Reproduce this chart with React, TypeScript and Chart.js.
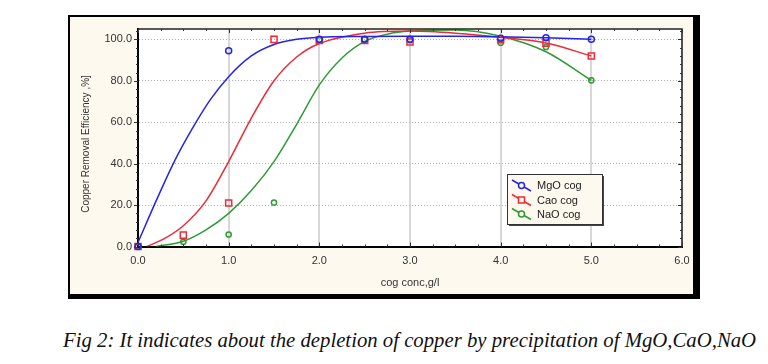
import React, { useEffect, useRef } from "react";
import { Chart, registerables } from "chart.js";
Chart.register(...registerables);

const seriesNames = ["MgO cog", "Cao cog", "NaO cog"];
const seriesColors = ["#2424e8", "#ee2a38", "#2f9a36"];
const xTicks = [0, 1, 2, 3, 4, 5, 6];
const yTicks = [0, 20, 40, 60, 80, 100];
const xTitle = "cog conc,g/l";
const yTitle = "Copper Removal Efficiency ,%]";
const caption = "Fig 2: It indicates about the depletion of copper by precipitation of MgO,CaO,NaO";

// measured points
const mgoX = [0, 1, 2, 2.5, 3, 4, 4.5, 5];
const mgoY = [0, 94.5, 100, 100, 100, 100.5, 100.8, 100];
const caoX = [0, 0.5, 1, 1.5, 2, 2.5, 3, 4, 4.5, 5];
const caoY = [0, 5.5, 21, 100, 99.5, 99.5, 98.7, 99.8, 98.2, 92];
const naoX = [0, 0.5, 1, 1.5, 2, 2.5, 3, 4, 4.5, 5];
const naoY = [0, 2.3, 5.8, 21.2, 99.6, 100, 99.6, 98.4, 96.3, 80.2];

// fitted curves
const mgoFitX = [0, 0.2, 0.4, 0.6, 0.8, 1.0, 1.25, 1.5, 1.75, 2.0, 2.5, 3.0, 3.5, 4.0, 4.5, 5.0];
const mgoFitY = [2, 22, 41, 57, 71, 82, 92, 97.5, 100, 101, 101.4, 101.5, 101.5, 101.2, 100.8, 100];
const caoFitX = [0.1, 0.3, 0.5, 0.75, 1.0, 1.25, 1.5, 1.75, 2.0, 2.5, 3.0, 3.5, 4.0, 4.5, 5.0];
const caoFitY = [0, 4, 10, 22, 41, 62, 80, 91.5, 98, 103, 104, 103, 101, 98.2, 92];
const naoFitX = [0.2, 0.5, 0.75, 1.0, 1.25, 1.5, 1.75, 2.0, 2.25, 2.5, 2.75, 3.0, 3.5, 4.0, 4.5, 5.0];
const naoFitY = [0, 2.5, 8, 16, 27, 41, 59, 78, 91, 99, 102.5, 104, 104.5, 101.5, 94, 80.2];

const zip = (xs: number[], ys: number[]) => xs.map((x, i) => ({ x, y: ys[i] }));

const FONT = "'Liberation Sans', Arial, sans-serif";

const framePlugin = {
  id: "frame",
  beforeDraw(chart: any) {
    const ctx = chart.ctx;
    const a = chart.chartArea;
    ctx.save();
    ctx.fillStyle = "#000";
    ctx.fillRect(68, 15, 632, 284);
    ctx.fillStyle = "#fdf9ef";
    ctx.fillRect(70, 17, 623, 277);
    ctx.fillStyle = "#ffffff";
    ctx.fillRect(a.left, a.top, a.right - a.left, a.bottom - a.top);
    ctx.restore();
  },
  afterDraw(chart: any) {
    const ctx = chart.ctx;
    const a = chart.chartArea;
    const xs = chart.scales.x;
    const ys = chart.scales.y;
    ctx.save();
    ctx.strokeStyle = "#222";
    ctx.lineWidth = 1.5;
    ctx.beginPath();
    ctx.moveTo(a.left, a.top);
    ctx.lineTo(a.right, a.top);
    ctx.lineTo(a.right, a.bottom);
    ctx.stroke();
    ctx.lineWidth = 1;
    ctx.strokeStyle = "#333";
    ctx.beginPath();
    for (let v = 0; v <= 6.001; v += 0.25) {
      const px = Math.round(xs.getPixelForValue(v)) + 0.5;
      const major = Math.abs(v - Math.round(v)) < 1e-6;
      const len = major ? 4 : 2;
      ctx.moveTo(px, a.top);
      ctx.lineTo(px, a.top + len);
      ctx.moveTo(px, a.bottom);
      ctx.lineTo(px, a.bottom - len);
    }
    for (let v = 0; v <= 104; v += 4) {
      const py = Math.round(ys.getPixelForValue(v)) + 0.5;
      const major = v % 20 === 0;
      const len = major ? 4 : 2;
      ctx.moveTo(a.left, py);
      ctx.lineTo(a.left - len, py);
      ctx.moveTo(a.right, py);
      ctx.lineTo(a.right - len, py);
    }
    ctx.stroke();

    ctx.fillStyle = "#333";
    ctx.font = "10px " + FONT;
    ctx.textAlign = "center";
    ctx.textBaseline = "middle";
    ctx.translate(86, 144);
    ctx.rotate(-Math.PI / 2);
    ctx.fillText(yTitle, 0, 0);
    ctx.restore();

    ctx.save();
    const bx = 507, by = 174, bw = 95, bh = 50;
    ctx.fillStyle = "#444";
    ctx.fillRect(bx + 2, by + 2, bw, bh);
    ctx.fillStyle = "#fdf9ef";
    ctx.fillRect(bx, by, bw, bh);
    ctx.strokeStyle = "#333";
    ctx.lineWidth = 1;
    ctx.strokeRect(bx + 0.5, by + 0.5, bw, bh);
    const rowY = [186, 200.5, 214.5];
    const styles = ["circle", "rect", "circle"];
    seriesNames.forEach((name, i) => {
      const y = rowY[i];
      ctx.strokeStyle = seriesColors[i];
      ctx.lineWidth = 1.5;
      ctx.beginPath();
      ctx.moveTo(512, y - 6);
      ctx.lineTo(531, y + 5);
      ctx.stroke();
      ctx.fillStyle = "#fdf9ef";
      ctx.beginPath();
      if (styles[i] === "circle") {
        ctx.arc(521.5, y - 0.5, 3, 0, Math.PI * 2);
      } else {
        ctx.rect(518.5, y - 3.5, 6, 6);
      }
      ctx.fill();
      ctx.stroke();
      ctx.fillStyle = "#222";
      ctx.font = "11px " + FONT;
      ctx.textAlign = "left";
      ctx.textBaseline = "middle";
      ctx.fillText(name, 537, y);
    });
    ctx.restore();
  },
};

export default function App() {
  const ref = useRef<HTMLCanvasElement | null>(null);
  useEffect(() => {
    if (!ref.current) return;
    const pointDs = (label: string, xs: number[], ys: number[], i: number, style: string, r: number) => ({
      label,
      data: zip(xs, ys),
      showLine: false,
      pointStyle: style,
      pointRadius: r,
      pointBorderWidth: 1.5,
      pointBorderColor: seriesColors[i],
      pointBackgroundColor: "rgba(0,0,0,0)",
      borderColor: seriesColors[i],
      clip: false,
      order: 0,
    });
    const fitDs = (label: string, xs: number[], ys: number[], i: number) => ({
      label: label + " fit",
      data: zip(xs, ys),
      showLine: true,
      pointRadius: 0,
      borderColor: seriesColors[i],
      borderWidth: 1.5,
      cubicInterpolationMode: "monotone",
      fill: false,
      order: 1,
    });
    const chart = new Chart(ref.current, {
      type: "scatter",
      data: {
        datasets: [
          fitDs(seriesNames[0], mgoFitX, mgoFitY, 0),
          fitDs(seriesNames[1], caoFitX, caoFitY, 1),
          fitDs(seriesNames[2], naoFitX, naoFitY, 2),
          pointDs(seriesNames[0], mgoX, mgoY, 0, "circle", 3),
          pointDs(seriesNames[1], caoX, caoY, 1, "rect", 4.3),
          pointDs(seriesNames[2], naoX, naoY, 2, "circle", 2.6),
        ] as any,
      },
      options: {
        animation: false,
        responsive: false,
        maintainAspectRatio: false,
        layout: { padding: { left: 70, right: 86, top: 29, bottom: 10 } },
        plugins: { legend: { display: false }, tooltip: { enabled: false } },
        scales: {
          x: {
            type: "linear",
            min: 0,
            max: 6,
            afterBuildTicks: (s: any) => {
              s.ticks = xTicks.map((v) => ({ value: v }));
            },
            afterFit: (s: any) => {
              s.height = 43.5;
            },
            ticks: {
              padding: 8,
              color: "#333",
              font: { family: FONT, size: 11 },
              callback: (v: any) => Number(v).toFixed(1),
            },
            grid: { color: "#d8d8d8", lineWidth: 2, drawTicks: false },
            border: { display: true, color: "#000", width: 2 },
            title: {
              display: true,
              text: xTitle,
              color: "#333",
              font: { family: FONT, size: 11 },
              padding: { top: 0, bottom: 0 },
            },
          },
          y: {
            type: "linear",
            min: 0,
            max: 105,
            afterBuildTicks: (s: any) => {
              s.ticks = yTicks.map((v) => ({ value: v }));
            },
            afterFit: (s: any) => {
              s.width = 68;
            },
            ticks: {
              padding: 6,
              color: "#333",
              font: { family: FONT, size: 11 },
              callback: (v: any) => Number(v).toFixed(1),
            },
            grid: { color: "#b0b0b0", lineWidth: 1, drawTicks: false },
            border: { display: true, color: "#000", width: 2, dash: [1, 2] },
          },
        },
      },
      plugins: [framePlugin],
    } as any);
    return () => chart.destroy();
  }, []);

  return (
    <div style={{ position: "relative", width: 768, height: 364, background: "#fff" }}>
      <style>{`body{margin:0}`}</style>
      <canvas ref={ref} width={768} height={300} style={{ position: "absolute", left: 0, top: 0, width: 768, height: 300 }} />
      <div
        style={{
          position: "absolute",
          left: 63,
          top: 328,
          whiteSpace: "nowrap",
          fontFamily: "'Liberation Serif', 'Times New Roman', serif",
          fontStyle: "italic",
          fontSize: 20.75,
          lineHeight: "24px",
          color: "#111",
        }}
      >
        {caption}
      </div>
    </div>
  );
}
